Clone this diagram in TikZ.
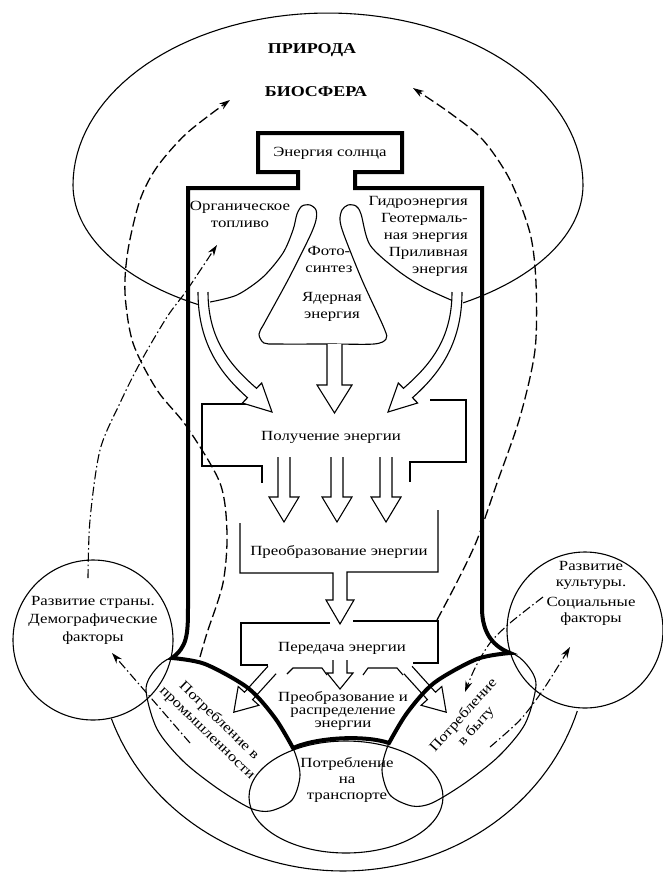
\documentclass[tikz,border=0pt]{standalone}
\usepackage{fontspec}
\setmainfont{Liberation Serif}[FakeStretch=1.2]
\usetikzlibrary{arrows.meta,positioning}

\begin{document}
\begin{tikzpicture}[x=1pt,y=-1pt,>={Stealth[length=11pt,width=7pt]},
    every node/.style={font=\fontsize{14}{17}\selectfont,inner sep=0pt,align=center},
    title/.style={font=\fontsize{15}{18}\selectfont\bfseries},
    thinline/.style={line width=1.1pt},
    frame/.style={line width=4pt,line join=miter},
    hollow/.style={line width=1.1pt,fill=white,line join=miter},
    dashline/.style={line width=1.3pt,dash pattern=on 10pt off 4pt},
    dashdot/.style={line width=1.1pt,dash pattern=on 9pt off 3pt on 1.5pt off 3pt}]
    \useasboundingbox (0,0) rectangle (663,873);

    % biosphere and the pinched bottom inside the frame
    \draw[thinline] plot[domain=120.7:180,variable=\t,samples=30] ({328+255*cos(\t)},{185+139*sin(\t)})
        -- plot[domain=180:360,variable=\t,samples=70] ({328+255*cos(\t)},{185+172*sin(\t)})
        -- plot[domain=360:418,variable=\t,samples=30] ({328+255*cos(\t)},{185+139*sin(\t)});
    \draw[thinline] plot[smooth,tension=0.5] coordinates {(210,302) (237,295) (263,277) (283,253)
        (293,230) (297,214) (302,206) (310,205) (316,210) (316,220) (310,236) (289,278) (265,322)
        (259,334) (264,343) (278,344) (330,344) (374,344) (386,339) (384,328) (362,280) (344,235)
        (340,220) (342,210) (348,205) (356,206) (361,214) (370,245) (397,270) (423,287) (451,300)};

    % consumption ellipses, circles and the outer arc
    \draw[thinline] plot[domain=17:161,variable=\t,samples=70] ({343+245*cos(\t)},{645+226*sin(\t)});
    \draw[thinline] (93,640) circle [radius=80];
    \draw[thinline] (585,630) circle [radius=78];
    \draw[thinline] plot[smooth cycle] coordinates {(146,690) (155,670) (172,658) (205,664) (248,688)
        (275,718) (293,748) (300,775) (292,800) (270,811) (250,808) (217,788) (183,761) (157,729)};
    \draw[thinline] plot[smooth cycle] coordinates {(536,685) (527,665) (510,653) (477,659) (434,683)
        (407,713) (389,743) (382,770) (390,795) (412,806) (432,803) (465,783) (499,756) (525,724)};
    \draw[thinline] (346,797) ellipse [x radius=97,y radius=56];

    % boxes
    \draw[thinline] (247,404) -- (202,404) -- (202,466) -- (262,466) -- (262,483);
    \draw[thinline] (430,400) -- (466,400) -- (466,462) -- (410,462) -- (410,482);
    \draw[hollow] (240,523) -- (240,573) -- (333,573) -- (333,600) -- (326,600) -- (340,624)
        -- (354,600) -- (347,600) -- (347,572) -- (438,572) -- (438,510);
    \draw[thinline] (330,623) -- (241,623) -- (241,665) -- (268,665);
    \draw[thinline] (353,621) -- (438,621) -- (438,663) -- (413,663);
    \draw[thinline] (287,674) -- (293,668) -- (322,668) -- (327,675);
    \draw[thinline] (363,675) -- (368,668) -- (397,668) -- (403,675);

    % hollow arrows
    \draw[hollow] (198,292) .. controls (198,345) and (222,375) .. (247.5,397.7) -- (242.3,403)
        -- (272,412) -- (261.7,383) -- (256.5,388.3) .. controls (231,366) and (208,340) .. (208,292);
    \draw[hollow] (462,292) .. controls (462,345) and (438,375) .. (412.5,397.7) -- (417.7,403)
        -- (388,412) -- (398.3,383) -- (403.5,388.3) .. controls (429,366) and (452,340) .. (452,292);
    \draw[hollow] (327,344) -- (327,385) -- (317,385) -- (334.5,413) -- (352,385) -- (342,385) -- (342,344);
    \foreach \cx in {284,337,386}
        \draw[hollow] ({\cx-6},457) -- ({\cx-6},497) -- ({\cx-15},497) -- (\cx,522)
            -- ({\cx+15},497) -- ({\cx+6},497) -- ({\cx+6},457);
    \draw[hollow] (333,660) -- (333,673) -- (327,673) -- (340,689) -- (353,673) -- (347,673) -- (347,660);
    \draw[hollow] (267.9,666.3) -- (244.5,692.2) -- (238.2,686.5) -- (233.8,712.2) -- (258.9,705.3)
        -- (252.6,699.6) -- (276.1,673.7);
    \draw[hollow] (412.1,666.3) -- (435.5,692.2) -- (441.8,686.5) -- (446.2,712.2) -- (421.1,705.3)
        -- (427.4,699.6) -- (403.9,673.7);

    % thick frame
    \draw[frame] (188,188) -- (298,188) -- (298,172) -- (258,172) -- (258,133) -- (402,133)
        -- (402,172) -- (355,172) -- (355,188) -- (482,188) -- (482,608)
        .. controls (482,635) and (495,647) .. (510,653)
        -- plot[smooth] coordinates {(510,653) (477,659) (434,683) (407,713) (389,743)}
        .. controls (365,735) and (318,737) .. (293,748)
        -- plot[smooth] coordinates {(293,748) (275,718) (248,688) (205,664) (172,658)}
        .. controls (187,647) and (188,635) .. (188,608) -- cycle;

    % feedback lines
    \draw[dashline,->] plot[smooth] coordinates {(200,657) (207,633) (223,583) (227,533) (220,483)
        (187,427) (157,390) (133,343) (125,293) (128,250) (140,200) (157,167) (187,133) (230,100)};
    \draw[dashline,->] plot[smooth] coordinates {(437,620) (458,580) (477,540) (497,483) (520,417)
        (535,350) (536,283) (530,233) (510,180) (483,140) (450,113) (413,88)};
    \draw[dashdot,->] plot[smooth] coordinates {(88,578) (90,520) (100,450) (120,403) (140,363)
        (167,317) (187,290) (217,245)};
    \draw[dashdot,->] (190,743) -- (112,653);
    \draw[dashdot,->] plot[smooth] coordinates {(490,747) (520,720) (543,690) (570,647)};
    \draw[dashdot,->] plot[smooth] coordinates {(543,597) (510,623) (490,643) (475,668) (465,692)};

    % labels
    \node[title] (priroda) at (312,50) {ПРИРОДА};
    \node[title] (biosfera) at (316,92) {БИОСФЕРА};
    \node (sun) at (330,153) {Энергия солнца};
    \node (fuel) at (240,214) {Органическое\\топливо};
    \node[anchor=north east,align=right] (hydro) at (468,196)
        {Гидроэнергия\\Геотермаль-\\ная энергия\\Приливная\\энергия};
    \node (photo) at (329,259) {Фото-\\синтез};
    \node (nuclear) at (332,307) {Ядерная\\энергия};
    \node (receive) at (331,437) {Получение энергии};
    \node (convert) at (339,552) {Преобразование энергии};
    \node (transfer) at (342,648) {Передача энергии};
    \node[font=\fontsize{14}{13}\selectfont] (distrib) at (343,711)
        {Преобразование и\\распределение\\энергии};
    \node[font=\fontsize{14}{16}\selectfont] (transport) at (347,780) {Потребление\\на\\транспорте};
    \node[rotate=-44] (industry) at (213,727) {Потребление в\\промышленности};
    \node[rotate=48] (home) at (470,721) {Потребление\\в быту};
    \node[font=\fontsize{14}{18}\selectfont] (country) at (93,620)
        {Развитие страны.\\Демографические\\факторы};
    \node[font=\fontsize{14}{16}\selectfont] (culture) at (591,593)
        {Развитие\\культуры.\\[4pt]Социальные\\факторы};
\end{tikzpicture}
\end{document}
